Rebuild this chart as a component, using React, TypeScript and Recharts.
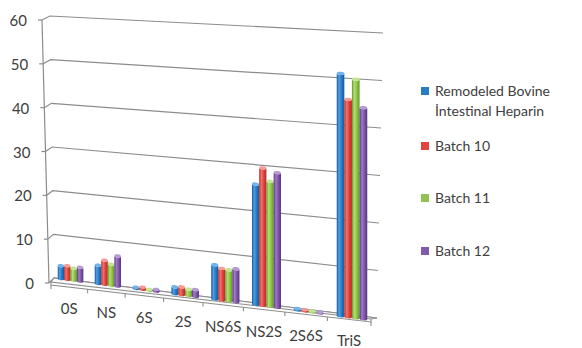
import React from 'react';
import { BarChart, Bar, XAxis, YAxis, CartesianGrid } from 'recharts';

const categories = ['0S', 'NS', '6S', '2S', 'NS6S', 'NS2S', '2S6S', 'TriS'];
const bovineHeparin = [2.9, 4.1, 0.3, 1.5, 7.4, 25.7, 0.3, 50.6];
const batch10 = [3.1, 5.4, 0.5, 1.7, 6.8, 29.3, 0.3, 45.3];
const batch11 = [2.7, 4.7, 0.2, 1.4, 6.7, 26.6, 0.2, 49.6];
const batch12 = [3.1, 6.7, 0.4, 1.5, 7.1, 28.6, 0.2, 43.8];
const yTicks = [0, 10, 20, 30, 40, 50, 60];

const seriesNames = ['Remodeled Bovine İntestinal Heparin', 'Batch 10', 'Batch 11', 'Batch 12'];
const seriesKeys = ['bovine', 'b10', 'b11', 'b12'];

// [dark edge, highlight, body, cap]
const SHADES = [
  ['#17589a', '#4f9fe2', '#2878c4', '#6fb3ea'],
  ['#b02a26', '#f4716a', '#e23f39', '#f59a94'],
  ['#62962a', '#b2df72', '#8cc444', '#c2e68e'],
  ['#56357c', '#a07cc6', '#7d53a6', '#b59ad4'],
];
const LEGEND_COLORS = ['#2a7cc2', '#e2433d', '#8fc452', '#8458ac'];

const GRID = '#8c8c8c';
const TEXT = '#404040';
const FONT = 'Lato, "Open Sans", sans-serif';

// flat plot rectangle that recharts lays out, before the 3d warp
const PL = 53, PR = 375, PT = 16, PB = 278;
const PERSP = 1.105;
const warp = (u: number) => u / (u + PERSP * (1 - u));

type Plane = { x0: number; x1: number; x0Top: number; x1Top: number; base0: number; base1: number; h0: number; h1: number };

const WALL: Plane = { x0: 54, x1: 377, x0Top: 50, x1Top: 383, base0: 278, base1: 318, h0: 262, h1: 285 };
const BARS: Plane = { x0: 53, x1: 375, x0Top: 53, x1Top: 375, base0: 277.5, base1: 320.3, h0: 266, h1: 290 };
const FRONT: Plane = { x0: 51, x1: 371, x0Top: 51, x1Top: 371, base0: 282, base1: 319, h0: 262, h1: 285 };

const lerp = (a: number, b: number, k: number) => a + (b - a) * k;

function project(p: Plane, fx: number, fy: number): [number, number] {
  const s = warp((fx - PL) / (PR - PL));
  const t = (PB - fy) / (PB - PT);
  const x = lerp(lerp(p.x0, p.x1, s), lerp(p.x0Top, p.x1Top, s), t);
  const y = lerp(p.base0, p.base1, s) - t * lerp(p.h0, p.h1, s);
  return [x, y];
}

// front edge of the left wall (value axis)
const axisPoint = (t: number): [number, number] => [lerp(49, 42, t), lerp(283, 20, t)];

const GridLine = (props: any) => {
  const { x1, x2, y1 } = props;
  const t = (PB - y1) / (PB - PT);
  const [lx, ly] = project(WALL, x1, y1);
  const [rx, ry] = project(WALL, x2, y1);
  const [ax, ay] = axisPoint(t);
  const parts: React.ReactNode[] = [
    <polyline key="l" points={`${ax},${ay} ${lx},${ly} ${rx},${ry}`} fill="none" stroke={GRID} strokeWidth={1.2} />,
  ];
  if (Math.abs(t - 1) < 1e-6) {
    const [bx, by] = axisPoint(0);
    parts.push(<line key="ax" x1={ax} y1={ay} x2={bx} y2={by} stroke={GRID} strokeWidth={1.2} />);
  }
  if (Math.abs(t) < 1e-6) {
    const [fl, fly] = project(FRONT, PL, PB);
    const [fr, fry] = project(FRONT, PR, PB);
    const n = categories.length;
    parts.push(
      <g key="floor" stroke={GRID} strokeWidth={1.1} fill="none">
        <polygon points={`${lx},${ly} ${rx},${ry} ${fr},${fry} ${fl},${fly}`} fill="#fafafa" />
        <polyline points={`${fl},${fly} ${fl},${fly + 3} ${fr},${fry + 3} ${fr},${fry}`} />
        {Array.from({ length: n + 1 }, (_, k) => {
          const [tx, ty] = project(FRONT, PL + ((PR - PL) * k) / n, PB);
          return <line key={k} x1={tx} y1={ty + 3} x2={tx} y2={ty + 7} />;
        })}
      </g>
    );
  }
  return <g>{parts}</g>;
};

const YTick = (props: any) => {
  const { y, payload } = props;
  const t = (PB - y) / (PB - PT);
  const [ax, ay] = axisPoint(t);
  return (
    <g>
      <line x1={ax - 4} y1={ay} x2={ax} y2={ay} stroke={GRID} strokeWidth={1.2} />
      <text x={ax - 15} y={ay} textAnchor="end" dominantBaseline="central" fontSize={15} fill={TEXT} fontFamily={FONT}>
        {payload.value}
      </text>
    </g>
  );
};

const XTick = (props: any) => {
  const { x, payload } = props;
  const [px, py] = project(FRONT, x, PB);
  return (
    <text x={px} y={py + 24} textAnchor="middle" dominantBaseline="central" fontSize={15} fill={TEXT} fontFamily={FONT}>
      {payload.value}
    </text>
  );
};

const cylinder = (si: number) => (props: any) => {
  const { x, y, width, height, index } = props;
  if (width == null || height == null) return <g />;
  const [blx, bly] = project(BARS, x, y + height);
  const [brx, bry] = project(BARS, x + width, y + height);
  const [tlx, tly] = project(BARS, x, y);
  const [trx, try_] = project(BARS, x + width, y);
  const rx = (brx - blx) / 2;
  const ry = 1.6;
  const aB = (Math.atan2(bry - bly, brx - blx) * 180) / Math.PI;
  const aT = (Math.atan2(try_ - tly, trx - tlx) * 180) / Math.PI;
  const [dark, light, body, cap] = SHADES[si];
  const id = `cyl-${si}-${index}`;
  return (
    <g>
      <defs>
        <linearGradient id={id} x1="0" y1="0" x2="1" y2="0">
          <stop offset="0" stopColor={dark} />
          <stop offset="0.3" stopColor={light} />
          <stop offset="0.65" stopColor={body} />
          <stop offset="1" stopColor={dark} />
        </linearGradient>
      </defs>
      <path
        d={`M${tlx},${tly} L${blx},${bly} A${rx},${ry} ${aB} 0 0 ${brx},${bry} L${trx},${try_} A${rx},${ry} ${aT} 0 1 ${tlx},${tly} Z`}
        fill={`url(#${id})`}
      />
      <path
        d={`M${tlx},${tly} A${rx},${ry} ${aT} 0 1 ${trx},${try_} A${rx},${ry} ${aT} 0 1 ${tlx},${tly} Z`}
        fill={cap}
      />
    </g>
  );
};

const data = categories.map((name, i) => ({
  name,
  bovine: bovineHeparin[i],
  b10: batch10[i],
  b11: batch11[i],
  b12: batch12[i],
}));

const legendTops = [81, 136, 188, 241];

export default function App() {
  return (
    <div style={{ position: 'fixed', left: 0, top: 0, width: 582, height: 348, background: '#fff' }}>
      <BarChart
        width={582}
        height={348}
        data={data}
        margin={{ top: PT, right: 582 - PR, bottom: 348 - PB - 1, left: PL - 1 }}
        barCategoryGap="13%"
        barGap={0}
      >
        <CartesianGrid vertical={false} horizontal={GridLine} />
        <XAxis dataKey="name" height={1} axisLine={false} tickLine={false} tick={XTick} interval={0} />
        <YAxis
          type="number"
          domain={[0, 60]}
          ticks={yTicks}
          width={1}
          axisLine={false}
          tickLine={false}
          tick={YTick}
        />
        {seriesKeys.map((k, si) => (
          <Bar key={k} dataKey={k} name={seriesNames[si]} shape={cylinder(si)} isAnimationActive={false} />
        ))}
      </BarChart>
      <div style={{ position: 'absolute', left: 0, top: 0, fontFamily: FONT, fontSize: 14, color: TEXT, lineHeight: '20px' }}>
        {seriesNames.map((n, i) => (
          <div key={n} style={{ position: 'absolute', left: 421, top: legendTops[i], width: 140, display: 'flex' }}>
            <span style={{ width: 8, height: 8, marginTop: 6, background: LEGEND_COLORS[i], flex: '0 0 8px' }} />
            <span style={{ marginLeft: 6, width: 126 }}>{n}</span>
          </div>
        ))}
      </div>
    </div>
  );
}
